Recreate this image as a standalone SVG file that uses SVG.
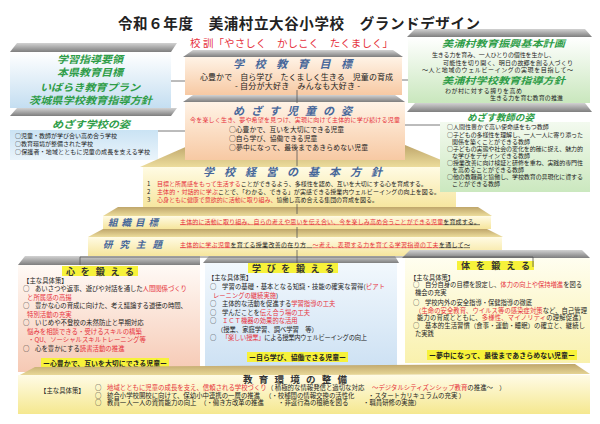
<svg xmlns="http://www.w3.org/2000/svg" width="600" height="424" viewBox="0 0 600 424">
<defs>
<linearGradient id="gBevel" x1="0" y1="0" x2="0" y2="1"><stop offset="0" stop-color="#d2d2d2"/><stop offset="1" stop-color="#7e7e7e"/></linearGradient>
<linearGradient id="gBlue" x1="0" y1="0" x2="0" y2="1"><stop offset="0" stop-color="#ffffff"/><stop offset="1" stop-color="#c4def1"/></linearGradient>
<linearGradient id="gBlue2" x1="0" y1="0" x2="0" y2="1"><stop offset="0" stop-color="#cae3f4"/><stop offset="1" stop-color="#eaf4fb"/></linearGradient>
<linearGradient id="gGreen" x1="0" y1="0" x2="0" y2="1"><stop offset="0" stop-color="#ffffff"/><stop offset="1" stop-color="#c9e7bd"/></linearGradient>
<linearGradient id="gGreen2" x1="0" y1="0" x2="0" y2="1"><stop offset="0" stop-color="#f3faef"/><stop offset="1" stop-color="#cbe8bf"/></linearGradient>
<linearGradient id="gPeach" x1="0" y1="0" x2="0" y2="1"><stop offset="0" stop-color="#fff3e6"/><stop offset="1" stop-color="#f7c9a3"/></linearGradient>
<linearGradient id="gTan" x1="0" y1="0" x2="0" y2="1"><stop offset="0" stop-color="#bfa66b"/><stop offset="1" stop-color="#ecdc9c"/></linearGradient>
<linearGradient id="gTier" x1="0" y1="0" x2="0" y2="1"><stop offset="0" stop-color="#fffbe4"/><stop offset="1" stop-color="#f6e59c"/></linearGradient>
<linearGradient id="gColP" x1="0" y1="0" x2="0" y2="1"><stop offset="0" stop-color="#fffaf6"/><stop offset="1" stop-color="#f6c9b4"/></linearGradient>
<linearGradient id="gColB" x1="0" y1="0" x2="0" y2="1"><stop offset="0" stop-color="#f2f8fd"/><stop offset="1" stop-color="#cde1f3"/></linearGradient>
<linearGradient id="gColY" x1="0" y1="0" x2="0" y2="1"><stop offset="0" stop-color="#fffef0"/><stop offset="1" stop-color="#f9f1ad"/></linearGradient>
<linearGradient id="gBottom" x1="0" y1="0" x2="0" y2="1"><stop offset="0" stop-color="#fffbe6"/><stop offset="1" stop-color="#f5e88f"/></linearGradient>
</defs>
<style>
text{font-family:'Noto Sans CJK JP','Noto Sans',sans-serif;fill:#222}
.r{fill:#e6323c}
.g{fill:#2f9d48;font-weight:700;font-style:italic}
.h{fill:#47679a;font-weight:700;font-style:italic}
.k{fill:#333;font-weight:700}
.s6{font-size:6px}
.s63{font-size:6.3px}
.s64{font-size:6.4px}
.bev{fill:url(#gBevel)}
.roof{fill:url(#gTan)}
.tier{fill:url(#gTier)}
.ln{stroke:#555;stroke-width:0.8;fill:none}
.hl{fill:#f7f23a}
.u{text-decoration:underline}
</style>
<rect width="600" height="424" fill="#ffffff"/>

<text x="118" y="28.5" font-size="14.5" font-weight="700" textLength="362">令和６年度　美浦村立大谷小学校　グランドデザイン</text>

<g id="kijun">
<polygon class="bev" points="10,52 17,43 177,43 171,52"/>
<rect x="10" y="52" width="161" height="56" fill="url(#gBlue)"/>
<text class="g" x="57" y="63" font-size="10" textLength="66" lengthAdjust="spacingAndGlyphs">学習指導要領</text>
<text class="g" x="57" y="76" font-size="10" textLength="66" lengthAdjust="spacingAndGlyphs">本県教育目標</text>
<text class="g" x="40" y="91" font-size="10" textLength="100" lengthAdjust="spacingAndGlyphs">いばらき教育プラン</text>
<text class="g" x="29" y="104" font-size="10" textLength="123" lengthAdjust="spacingAndGlyphs">茨城県学校教育指導方針</text>
</g>

<g id="gakko-sugata">
<polygon class="bev" points="10,116 17,108 177,108 171,116"/>
<text class="g" x="52" y="127.5" font-size="10" textLength="78" lengthAdjust="spacingAndGlyphs">めざす学校の姿</text>
<rect x="10" y="130" width="148" height="30" fill="url(#gBlue2)"/>
<text class="s6" x="15" y="138">○児童・教師が学び合い高め合う学校</text>
<text class="s6" x="15" y="146">○教育環境が整備された学校</text>
<text class="s6" x="15" y="154" textLength="135">○保護者・地域とともに児童の成長を支える学校</text>
</g>

<g id="tier-keiei">
<polygon class="roof" points="140,167 190,145 405,145 458,167"/>
<rect class="tier" x="143" y="167" width="313" height="42"/>
<text class="h" x="203" y="175.5" font-size="11" textLength="179" lengthAdjust="spacing">学校経営の基本方針</text>
<text class="s6" x="147" y="186">1</text>
<text class="s6" x="157" y="186" textLength="270"><tspan class="r">目標と所属感をもって生活する</tspan>ことができるよう、多様性を認め、互いを大切にする心を育成する。</text>
<text class="s6" x="147" y="194">2</text>
<text class="s6" x="157" y="194" textLength="283"><tspan class="r">主体的・対話的に学ぶ</tspan>ことで、「わかる、できる」が実感できる授業内ウェルビーイングの向上を図る。</text>
<text class="s6" x="147" y="202">3</text>
<text class="s6" x="157" y="202" textLength="221"><tspan class="r">心身ともに健康で意欲的に活動に取り組み、</tspan>協働し高め合える集団の育成を図る。</text>
</g>

<g id="tier-soshiki">
<polygon class="roof" points="103,216 118,207 478,207 492,216"/>
<rect class="tier" x="103" y="216" width="388" height="13"/>
<text class="h" x="108" y="226" font-size="9.5" textLength="50" lengthAdjust="spacing">組織目標</text>
<text class="s6" x="180" y="223.5" textLength="300"><tspan class="r u">主体的に活動に取り組み、自らの考えや思いを伝え合い、今を楽しみ高め合うことができる児童</tspan><tspan class="u">を育成する。</tspan></text>
</g>

<g id="tier-kenkyu">
<polygon class="roof" points="88,237 103,229 487,229 503,237"/>
<rect class="tier" x="88" y="237" width="414" height="19"/>
<text class="h" x="103" y="248" font-size="9.5" textLength="59" lengthAdjust="spacing">研究主題</text>
<text class="s6" x="180" y="246.5" textLength="290"><tspan class="r u">主体的に学ぶ児童</tspan><tspan class="u">を育てる授業改善の在り方　</tspan><tspan class="r u">～考え、表現する力を育てる学習指導の工夫</tspan><tspan class="u">を通して～</tspan></text>
</g>

<g id="kokun">
<text x="190" y="47" font-size="10.5" class="r" textLength="203">校 訓「やさしく　かしこく　たくましく」</text>
</g>

<g id="kyoiku-mokuhyo">
<polygon class="bev" points="183,57 193,50 393,50 403,57"/>
<rect x="185" y="57" width="217" height="38" fill="url(#gPeach)"/>
<text class="h" x="233" y="68" font-size="11" textLength="119" lengthAdjust="spacing">学校教育目標</text>
<text x="200" y="80" font-size="8" textLength="193">心豊かで　自ら学び　たくましく生きる　児童の育成</text>
<text x="235" y="89" font-size="8" textLength="125">- 自分が大好き　みんなも大好き -</text>
</g>

<g id="jido-sugata">
<polygon class="bev" points="183,102 193,95 395,95 405,102"/>
<rect x="185" y="102" width="220" height="58" fill="url(#gPeach)"/>
<text class="h" x="233" y="114.5" font-size="11" textLength="119" lengthAdjust="spacing">めざす児童の姿</text>
<text class="r s6" x="190" y="122" textLength="210">今を楽しく生き、夢や希望を見つけ、実現に向けて主体的に学び続ける児童</text>
<text x="229" y="132" font-size="6.8">○心豊かで、互いを大切にできる児童</text>
<text x="229" y="141" font-size="6.8">○自ら学び、協働できる児童</text>
<text x="229" y="150" font-size="6.8" textLength="139">○夢中になって、最後まであきらめない児童</text>
</g>

<g id="sonshin">
<polygon class="bev" points="407,37 415,29 585,29 592,37"/>
<rect x="408" y="37" width="182" height="66" fill="url(#gGreen)"/>
<text class="g" x="442" y="47" font-size="9.5" textLength="123" lengthAdjust="spacingAndGlyphs">美浦村教育振興基本計画</text>
<text class="s6" x="432" y="57" textLength="123">生きる力を育み、一人ひとりの個性を生かし、</text>
<text class="s6" x="443" y="64.5" textLength="130">可能性を切り開く、明日の故郷を創る人づくり</text>
<text class="s6" x="422" y="72" textLength="151">～人と地域のウェルビーイングの実現を目指して～</text>
<text class="g" x="442" y="84" font-size="9.5" textLength="123" lengthAdjust="spacingAndGlyphs">美浦村学校教育指導方針</text>
<text class="s6" x="445" y="92.5" textLength="77">わが村に対する誇りを高め</text>
<text class="s6" x="490" y="100" textLength="73">生きる力を育む教育の推進</text>
</g>

<g id="kyoshi-sugata">
<polygon class="bev" points="407,112 415,103 585,103 592,112"/>
<text class="g" x="467" y="121" font-size="9.5" textLength="67" lengthAdjust="spacingAndGlyphs">めざす教師の姿</text>
<rect x="440" y="122" width="150" height="70" fill="url(#gGreen2)"/>
<text class="s6" x="447" y="129">○人間性豊かで高い使命感をもつ教師</text>
<text class="s6" x="447" y="136.5" textLength="136">○子どもの多様性を理解し、一人一人に寄り添った</text>
<text class="s6" x="452" y="143.5">関係を築くことができる教師</text>
<text class="s6" x="447" y="150.5" textLength="136">○子どもの実態や社会の変化を的確に捉え、魅力的</text>
<text class="s6" x="452" y="157.5">な学びをデザインできる教師</text>
<text class="s6" x="447" y="164.5" textLength="136">○授業改善に向け検証と研修を重ね、実践的専門性</text>
<text class="s6" x="452" y="171.5">を高めることができる教師</text>
<text class="s6" x="447" y="178.5" textLength="136">○他の教職員と協働し、学校教育の具現化に資する</text>
<text class="s6" x="452" y="185.5">ことができる教師</text>
</g>

<g id="kokoro">
<polygon class="bev" points="18,265 25,256 200,256 200,265"/>
<rect x="18" y="265" width="182" height="107" fill="url(#gColP)"/>
<rect class="hl" x="62" y="266" width="76" height="10"/>
<text class="k" x="66" y="275" font-size="9" textLength="68" lengthAdjust="spacing">心を鍛える</text>
<text class="s64" x="23" y="283">【主な具体策】</text>
<text class="s64" x="23" y="291">○</text>
<text class="s64" x="35" y="291" textLength="152">あいさつや返事、遊びや対話を通した<tspan class="r">人間関係づくり</tspan></text>
<text class="s64 r" x="27" y="299.5">と所属感の高揚</text>
<text class="s64" x="23" y="308">○</text>
<text class="s64" x="35" y="308" textLength="152">豊かな心の育成に向けた、考え議論する道徳の時間、</text>
<text class="s64 r" x="27" y="316.5">特別活動の充実</text>
<text class="s64" x="23" y="325">○</text>
<text class="s64" x="35" y="325">いじめや不登校の未然防止と早期対応</text>
<text class="s64 r" x="27" y="333.5">悩みを相談できる・受けるスキルの構築</text>
<text class="s64 r" x="28" y="342">・QU、ソーシャルスキルトレーニング等</text>
<text class="s64" x="23" y="351">○</text>
<text class="s64" x="35" y="351">心を豊かにする<tspan class="r">読書活動の推進</tspan></text>
<rect class="hl" x="41" y="358" width="128" height="10"/>
<text x="43" y="366" font-size="6.9" font-weight="700" textLength="124">ー心豊かで、互いを大切にできる児童ー</text>
</g>

<g id="manabi">
<polygon class="bev" points="203,263 209,256 395,256 399,263"/>
<rect x="205" y="263" width="192" height="104" fill="url(#gColB)"/>
<rect class="hl" x="248" y="263" width="90" height="10"/>
<text class="k" x="252" y="272" font-size="9" textLength="82" lengthAdjust="spacing">学びを鍛える</text>
<text class="s63" x="208" y="280">【主な具体策】</text>
<text class="s63" x="210" y="289">○</text>
<text class="s63" x="222" y="289" textLength="163">学習の基礎・基本となる知識・技能の確実な習得(<tspan class="r">ピアト</tspan></text>
<text class="s63" x="213" y="297.5"><tspan class="r">レーニングの継続実施</tspan>)</text>
<text class="s63" x="210" y="306">○</text>
<text class="s63" x="222" y="306">主体的な活動を促進する<tspan class="r">学習指導の工夫</tspan></text>
<text class="s63" x="210" y="314.5">○</text>
<text class="s63" x="222" y="314.5">学んだことを<tspan class="r">伝え合う場の工夫</tspan></text>
<text class="s63" x="210" y="323">○</text>
<text class="s63 r" x="222" y="323">ＩＣＴ機器の効果的な活用</text>
<text class="s63" x="217" y="332">（授業、家庭学習、調べ学習　等）</text>
<text class="s63" x="210" y="340">○</text>
<text class="s63" x="222" y="340" textLength="145"><tspan class="r">「楽しい授業」</tspan>による授業内ウェルビーイングの向上</text>
<rect class="hl" x="247" y="352" width="101" height="10"/>
<text x="249" y="360" font-size="6.9" font-weight="700" textLength="97">ー自ら学び、協働できる児童ー</text>
</g>

<g id="karada">
<polygon class="bev" points="402,258 410,250 582,250 590,258"/>
<rect x="405" y="258" width="185" height="105" fill="url(#gColY)"/>
<rect class="hl" x="457" y="261" width="77" height="9"/>
<text class="k" x="461" y="269" font-size="9" textLength="69" lengthAdjust="spacing">体を鍛える</text>
<text class="s63" x="410" y="279.5">【主な具体策】</text>
<text class="s63" x="413" y="287">○</text>
<text class="s63" x="425" y="287" textLength="157">自分自身の目標を設定し、<tspan class="r">体力の向上や保持増進</tspan>を図る</text>
<text class="s63" x="415" y="295">機会の充実</text>
<text class="s63" x="413" y="304.5">○</text>
<text class="s63" x="425" y="304.5">学校内外の安全指導・保健指導の徹底</text>
<text class="s63" x="415" y="312.5" textLength="172"><tspan class="r">（生命の安全教育、ウイルス等の感染症対策</tspan>など、自己管理</text>
<text class="s63" x="417" y="320" textLength="168">能力の育成とともに、<tspan class="r">多様性、マイノリティ</tspan>の理解促進）</text>
<text class="s63" x="413" y="328">○</text>
<text class="s63" x="425" y="328" textLength="160">基本的生活習慣（食事・運動・睡眠）の確立と、継続し</text>
<text class="s63" x="415" y="336">た実践</text>
<rect class="hl" x="427" y="350" width="150" height="10"/>
<text x="429" y="358" font-size="6.9" font-weight="700" textLength="146">ー夢中になって、最後まであきらめない児童ー</text>
</g>

<g id="kankyo">
<polygon class="roof" points="18,376 35,367 575,364 590,374"/>
<rect x="18" y="375" width="572" height="39" fill="url(#gBottom)"/>
<text class="k" x="243" y="382.5" font-size="9.5" textLength="104" lengthAdjust="spacing">教育環境の整備</text>
<text class="s64" x="40" y="393">【主な具体策】</text>
<text class="s64" x="95" y="390">○</text>
<text class="s64" x="107" y="390"><tspan class="r">地域とともに児童の成長を支え、信頼される学校づくり</tspan><tspan x="267">（ 積極的な情報発信と適切な対応</tspan><tspan x="372" class="r">～デジタルシティズンシップ教育</tspan>の推進～　）</text>
<text class="s64" x="95" y="397.5">○</text>
<text class="s64" x="107" y="397.5">統合小学校開校に向けて、保幼小中連携の一層の推進<tspan x="265">（・校種間の情報交換の活性化</tspan><tspan x="368">・スタートカリキュラムの充実 ）</tspan></text>
<text class="s64" x="95" y="405">○</text>
<text class="s64" x="107" y="405">教員一人一人の資質能力の向上<tspan x="200">（・働き方改革の推進</tspan><tspan x="278">・非違行為の根絶を図る</tspan><tspan x="363">・職員研修の実施）</tspan></text>
</g>

<g id="connectors">
<line class="ln" x1="171" y1="81" x2="185" y2="81"/>
<line class="ln" x1="158" y1="131" x2="185" y2="131"/>
<line class="ln" x1="402" y1="80" x2="408" y2="80"/>
<line class="ln" x1="405" y1="125" x2="440" y2="125"/>
<line class="ln" x1="297" y1="90" x2="297" y2="103"/>
<line class="ln" x1="297" y1="151" x2="297" y2="166"/>
<line class="ln" x1="297" y1="204" x2="297" y2="214"/>
<line class="ln" x1="297" y1="227" x2="297" y2="238"/>
<line class="ln" x1="297" y1="250" x2="297" y2="263"/>
<polyline class="ln" points="80,265 80,257 533,257 533,267"/>
</g>
</svg>
